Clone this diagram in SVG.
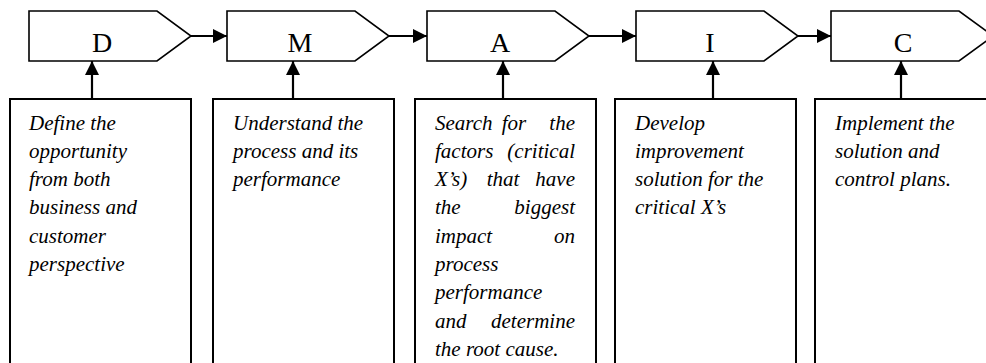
<svg xmlns="http://www.w3.org/2000/svg" width="986" height="363" viewBox="0 0 986 363">
<style>
.pent{fill:#fff;stroke:#000;stroke-width:1.6}
.box{fill:#fff;stroke:#000;stroke-width:2}
.head{font-family:"Liberation Serif","Times New Roman",serif;font-size:28px;fill:#000;text-anchor:middle}
.body{font-family:"Liberation Serif","Times New Roman",serif;font-size:21px;font-style:italic;fill:#000}
.end{text-anchor:end}
.mid{text-anchor:middle}
.conn{stroke:#000;stroke-width:2.2;fill:none;marker-end:url(#ah)}
</style>
<defs>
<marker id="ah" markerUnits="userSpaceOnUse" viewBox="0 0 14 14" refX="14" refY="7" markerWidth="14" markerHeight="14" orient="auto">
<path d="M0,0 L14,7 L0,14 Z" fill="#000"/>
</marker>
</defs>
<rect width="986" height="363" fill="#fff"/>
<g id="node-D">
<polygon class="pent" points="29,11 157,11 191,36 157,61 29,61"/>
<text class="head" x="102" y="52">D</text>
</g>
<g id="node-M">
<polygon class="pent" points="227,11 355,11 389,36 355,61 227,61"/>
<text class="head" x="300" y="52">M</text>
</g>
<g id="node-A">
<polygon class="pent" points="427,11 555,11 589,36 555,61 427,61"/>
<text class="head" x="500" y="52">A</text>
</g>
<g id="node-I">
<polygon class="pent" points="636,11 764,11 798,36 764,61 636,61"/>
<text class="head" x="710" y="52">I</text>
</g>
<g id="node-C">
<polygon class="pent" points="831,11 959,11 993,36 959,61 831,61"/>
<text class="head" x="903" y="52">C</text>
</g>
<g id="desc-D">
<rect class="box" x="10" y="99" width="181" height="280"/>
<text class="body" x="29" y="129.5">Define the</text>
<text class="body" x="29" y="157.8">opportunity</text>
<text class="body" x="29" y="186.1">from both</text>
<text class="body" x="29" y="214.4">business and</text>
<text class="body" x="29" y="242.7">customer</text>
<text class="body" x="29" y="271">perspective</text>
</g>
<g id="desc-M">
<rect class="box" x="213" y="99" width="181" height="280"/>
<text class="body" x="233" y="129.5">Understand the</text>
<text class="body" x="233" y="157.8">process and its</text>
<text class="body" x="233" y="186.1">performance</text>
</g>
<g id="desc-A">
<rect class="box" x="415" y="99" width="181" height="280"/>
<text class="body" x="435" y="129.5">Search</text>
<text class="body mid" x="514" y="129.5">for</text>
<text class="body end" x="575" y="129.5">the</text>
<text class="body" x="435" y="157.8">factors</text>
<text class="body end" x="575" y="157.8">(critical</text>
<text class="body" x="435" y="186.1">X’s)</text>
<text class="body mid" x="503" y="186.1">that</text>
<text class="body end" x="575" y="186.1">have</text>
<text class="body" x="435" y="214.4">the</text>
<text class="body end" x="575" y="214.4">biggest</text>
<text class="body" x="435" y="242.7">impact</text>
<text class="body end" x="575" y="242.7">on</text>
<text class="body" x="435" y="271">process</text>
<text class="body" x="435" y="299.3">performance</text>
<text class="body" x="435" y="327.6">and</text>
<text class="body end" x="575" y="327.6">determine</text>
<text class="body" x="435" y="355.9">the root cause.</text>
</g>
<g id="desc-I">
<rect class="box" x="615" y="99" width="181" height="280"/>
<text class="body" x="635" y="129.5">Develop</text>
<text class="body" x="635" y="157.8">improvement</text>
<text class="body" x="635" y="186.1">solution for the</text>
<text class="body" x="635" y="214.4">critical X’s</text>
</g>
<g id="desc-C">
<rect class="box" x="815" y="99" width="200" height="280"/>
<text class="body" x="835" y="129.5">Implement the</text>
<text class="body" x="835" y="157.8">solution and</text>
<text class="body" x="835" y="186.1">control plans.</text>
</g>
<g id="connectors">
<path class="conn" d="M191,36 H227"/>
<path class="conn" d="M389,36 H427"/>
<path class="conn" d="M589,36 H636"/>
<path class="conn" d="M798,36 H831"/>
<path class="conn" d="M92,99 V61"/>
<path class="conn" d="M293,99 V61"/>
<path class="conn" d="M503,99 V61"/>
<path class="conn" d="M713,99 V61"/>
<path class="conn" d="M901,99 V61"/>
</g>
</svg>
